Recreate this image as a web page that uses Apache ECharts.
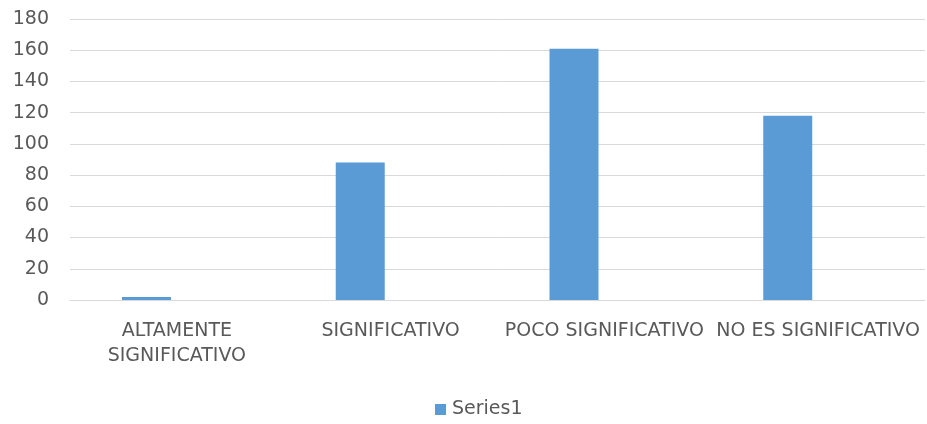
<!DOCTYPE html>
<html>
<head>
<meta charset="utf-8">
<script src="https://cdn.jsdelivr.net/npm/echarts@6/dist/echarts.min.js"></script>
<style>html,body{margin:0;padding:0;background:#fff}#c{width:927px;height:424px}</style>
</head>
<body>
<div id="c"></div>
<script>
var categories = ['ALTAMENTE\nSIGNIFICATIVO', 'SIGNIFICATIVO', 'POCO SIGNIFICATIVO', 'NO ES SIGNIFICATIVO'];
var series1 = [2, 88, 161, 118];
var yTicks = {min: 0, max: 180, interval: 20};

var chart = echarts.init(document.getElementById('c'));
var font = 'DejaVu Sans';
chart.setOption({
  animation: false,
  grid: {left: 70, right: 2, top: 19, bottom: 124, containLabel: false},
  legend: {
    data: ['Series1'], top: 400, left: 435, icon: 'rect', itemWidth: 11, itemHeight: 11, itemGap: 6, padding: 0,
    textStyle: {fontFamily: font, fontSize: 19, color: '#595959', padding: [0, 0, 0, 1]}
  },
  xAxis: {
    type: 'category', data: categories,
    axisLine: {lineStyle: {color: '#d9d9d9'}}, axisTick: {show: false},
    axisLabel: {fontFamily: font, fontSize: 19, color: '#595959', margin: 19, lineHeight: 25, interval: 0}
  },
  yAxis: {
    type: 'value', min: yTicks.min, max: yTicks.max, interval: yTicks.interval,
    axisLine: {show: false}, axisTick: {show: false},
    splitLine: {lineStyle: {color: '#d9d9d9'}},
    axisLabel: {fontFamily: font, fontSize: 19, color: '#595959', margin: 21}
  },
  series: [
    {name: 'Series1', type: 'bar', data: series1, barWidth: 49, barGap: '24%', itemStyle: {color: '#5b9bd5'}},
    {name: 'blank', type: 'bar', data: [], barWidth: 49}
  ]
});
</script>
</body>
</html>
